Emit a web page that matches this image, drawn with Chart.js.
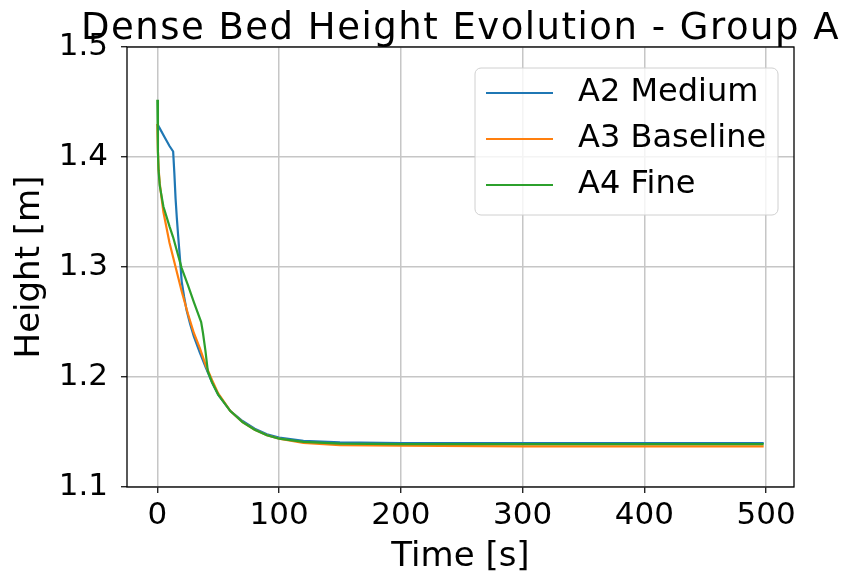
<!DOCTYPE html>
<html>
<head>
<meta charset="utf-8">
<title>Dense Bed Height Evolution - Group A</title>
<script src="https://cdn.jsdelivr.net/npm/chart.js@4.4.0/dist/chart.umd.min.js"></script>
<style>
  html, body { margin: 0; padding: 0; background: #fff; }
  #chart { display: block; }
</style>
</head>
<body>
<canvas id="chart" width="845" height="576"></canvas>
<script>
// values
const seriesLabels = ["A2 Medium", "A3 Baseline", "A4 Fine"];
const seriesColors = ["#1f77b4", "#ff7f0e", "#2ca02c"];

const timeA2 = [0, 2, 6, 10, 13, 14, 15, 16, 17, 18, 19, 20, 22, 24, 27, 30, 35, 40, 45, 50, 60, 70, 80, 90, 100, 120, 150, 200, 300, 400, 498];
const heightA2 = [1.430, 1.426, 1.418, 1.410, 1.405, 1.385, 1.362, 1.345, 1.330, 1.316, 1.302, 1.287, 1.273, 1.261, 1.248, 1.237, 1.222, 1.208, 1.195, 1.184, 1.169, 1.160, 1.153, 1.148, 1.145, 1.142, 1.1405, 1.140, 1.140, 1.140, 1.140];

const timeA3 = [0, 0.5, 1, 2, 3, 5, 10, 15, 20, 25, 30, 35, 40, 45, 50, 60, 70, 80, 90, 100, 120, 150, 200, 300, 400, 498];
const heightA3 = [1.430, 1.405, 1.390, 1.376, 1.367, 1.350, 1.322, 1.300, 1.278, 1.258, 1.240, 1.226, 1.210, 1.197, 1.185, 1.169, 1.159, 1.152, 1.147, 1.144, 1.140, 1.138, 1.1375, 1.137, 1.137, 1.137];

const timeA4 = [0, 0.5, 1, 2, 5, 10, 13, 20, 25, 30, 36, 37.5, 39.5, 41.5, 45, 50, 60, 70, 80, 90, 100, 120, 150, 200, 300, 400, 498];
const heightA4 = [1.452, 1.405, 1.388, 1.374, 1.355, 1.337, 1.327, 1.299, 1.284, 1.268, 1.250, 1.240, 1.224, 1.205, 1.195, 1.184, 1.169, 1.159, 1.152, 1.147, 1.144, 1.141, 1.1395, 1.139, 1.139, 1.139, 1.139];

const xTicks = [0, 100, 200, 300, 400, 500];
const xTickLabels = ["0", "100", "200", "300", "400", "500"];
const yTicks = [1.1, 1.2, 1.3, 1.4, 1.5];
const yTickLabels = ["1.1", "1.2", "1.3", "1.4", "1.5"];

const chartTitle = "Dense Bed Height Evolution - Group A";
const xTitle = "Time [s]";
const yTitle = "Height [m]";

function toPoints(xs, ys) {
  return xs.map((x, i) => ({ x, y: ys[i] }));
}

Chart.defaults.font.family = "'DejaVu Sans', sans-serif";
Chart.defaults.color = "#000";

// title centred over the axes, like matplotlib
const titlePlugin = {
  id: "mplTitle",
  afterDraw(chart) {
    const { ctx, chartArea } = chart;
    ctx.save();
    ctx.font = "37px 'DejaVu Sans'";
    ctx.fillStyle = "#000";
    ctx.textAlign = "center";
    ctx.textBaseline = "alphabetic";
    try { ctx.letterSpacing = "1.5px"; } catch (e) {}
    ctx.fillText(chartTitle, (chartArea.left + chartArea.right) / 2, 39);
    ctx.restore();
  },
};

// axes frame on all four sides
const framePlugin = {
  id: "frame",
  afterDatasetsDraw(chart) {
    const { ctx, chartArea: a } = chart;
    ctx.save();
    ctx.strokeStyle = "#000";
    ctx.lineWidth = 1.3;
    ctx.strokeRect(a.left, a.top, a.right - a.left, a.bottom - a.top);
    ctx.restore();
  },
};

// legend box in the upper right of the plot
const legendPlugin = {
  id: "mplLegend",
  afterDraw(chart) {
    const { ctx, chartArea: a } = chart;
    const w = 303, h = 147;
    const left = a.right - 16 - w;
    const top = a.top + 21;
    ctx.save();
    ctx.beginPath();
    ctx.roundRect(left, top, w, h, 6);
    ctx.fillStyle = "rgba(255,255,255,0.8)";
    ctx.fill();
    ctx.strokeStyle = "#d0d0d0";
    ctx.lineWidth = 1;
    ctx.stroke();
    ctx.font = "32px 'DejaVu Sans'";
    ctx.textBaseline = "middle";
    ctx.textAlign = "left";
    chart.data.datasets.forEach((ds, i) => {
      const cy = top + 25 + i * 46;
      ctx.beginPath();
      ctx.moveTo(left + 11, cy);
      ctx.lineTo(left + 78, cy);
      ctx.strokeStyle = ds.borderColor;
      ctx.lineWidth = 2.2;
      ctx.stroke();
      ctx.fillStyle = "#000";
      ctx.fillText(ds.label, left + 103, cy);
    });
    ctx.restore();
  },
};

const makeDataset = (i, xs, ys) => ({
  label: seriesLabels[i],
  data: toPoints(xs, ys),
  borderColor: seriesColors[i],
  backgroundColor: seriesColors[i],
  borderWidth: 2.2,
  pointRadius: 0,
  showLine: true,
  tension: 0,
  order: 3 - i,
});

new Chart(document.getElementById("chart"), {
  type: "scatter",
  data: {
    datasets: [
      makeDataset(0, timeA2, heightA2),
      makeDataset(1, timeA3, heightA3),
      makeDataset(2, timeA4, heightA4),
    ],
  },
  options: {
    responsive: false,
    animation: false,
    devicePixelRatio: 1,
    layout: { padding: { top: 47, right: 51, left: 0, bottom: 0 } },
    plugins: {
      legend: { display: false },
      tooltip: { enabled: false },
      title: { display: false },
    },
    scales: {
      x: {
        type: "linear",
        min: -24.9,
        max: 522.9,
        afterBuildTicks(scale) {
          scale.ticks = xTicks.map(v => ({ value: v }));
        },
        afterFit(scale) {
          scale.height = 89;
        },
        grid: {
          color: "#c6c6c6",
          lineWidth: 1.5,
          tickLength: 6,
          tickColor: "#000",
          tickWidth: 1.2,
        },
        border: { display: false },
        ticks: {
          font: { size: 31 },
          color: "#000",
          padding: 4,
          maxRotation: 0,
          callback: (v) => xTickLabels[xTicks.indexOf(v)],
        },
        title: {
          display: true,
          text: xTitle,
          font: { size: 34, lineHeight: 1.1 },
          color: "#000",
          padding: { top: 0, bottom: 0 },
        },
      },
      y: {
        type: "linear",
        min: 1.1,
        max: 1.5,
        afterBuildTicks(scale) {
          scale.ticks = yTicks.map(v => ({ value: v }));
        },
        afterFit(scale) {
          scale.width = 127;
        },
        grid: {
          color: "#c6c6c6",
          lineWidth: 1.5,
          tickLength: 6,
          tickColor: "#000",
          tickWidth: 1.2,
        },
        border: { display: false },
        ticks: {
          font: { size: 31 },
          color: "#000",
          padding: 13,
          callback: (v) => yTickLabels[yTicks.findIndex(t => Math.abs(t - v) < 1e-9)],
        },
        title: {
          display: true,
          text: yTitle,
          font: { size: 34, lineHeight: 1.2 },
          color: "#000",
          padding: { top: 10, bottom: 0 },
        },
      },
    },
  },
  plugins: [framePlugin, legendPlugin, titlePlugin],
});
</script>
</body>
</html>
